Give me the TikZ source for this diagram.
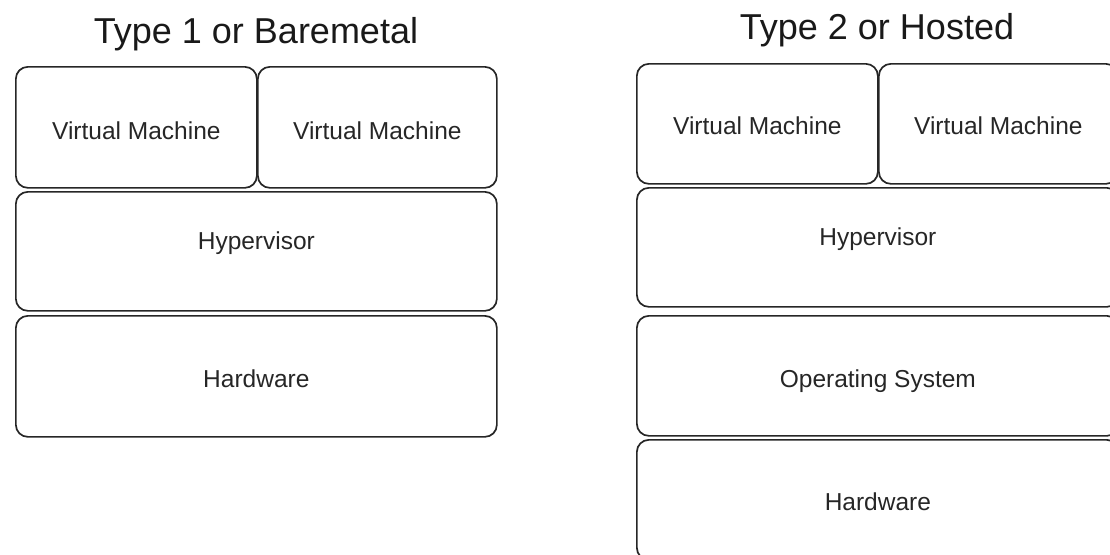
\documentclass[tikz,border=0pt]{standalone}
\usepackage{fontspec}
\setmainfont{Liberation Sans}
\begin{document}
\begin{tikzpicture}[x=1pt,y=-1pt,
  layer/.style={draw=black!85, line width=1.7pt, rounded corners=12pt,
    inner sep=0pt, anchor=north west},
  caption/.style={inner sep=0pt, text=black!85,
    font=\fontsize{24.5}{29}\selectfont},
  heading/.style={inner sep=0pt, text=black!90,
    font=\fontsize{36}{41}\selectfont}]
\useasboundingbox (0,0) rectangle (1110,554);
\clip (0,0) rectangle (1110,554);

% Type 1 stack
\node[heading] (t1) at (256,34) {Type 1 or Baremetal};
\node[layer, minimum width=241pt, minimum height=121pt] (vmA) at (15,66) {};
\node[layer, minimum width=239pt, minimum height=121pt] (vmB) at (257,66) {};
\node[layer, minimum width=481pt, minimum height=119pt] (hypA) at (15,191) {};
\node[layer, minimum width=481pt, minimum height=121pt] (hwA) at (15,315) {};
\node[caption] (vmAt) at ([yshift=-3pt]vmA.center) {Virtual Machine};
\node[caption] (vmBt) at ([yshift=-3pt]vmB.center) {Virtual Machine};
\node[caption] (hypAt) at ([yshift=8pt]hypA.center) {Hypervisor};
\node[caption] (hwAt) at ([yshift=-2pt]hwA.center) {Hardware};

% Type 2 stack
\node[heading] (t2) at (877,30) {Type 2 or Hosted};
\node[layer, minimum width=241pt, minimum height=120pt] (vmC) at (636,63) {};
\node[layer, minimum width=239pt, minimum height=120pt] (vmD) at (878,63) {};
\node[layer, minimum width=482pt, minimum height=119pt] (hypB) at (636,187) {};
\node[layer, minimum width=482pt, minimum height=120pt] (osB) at (636,315) {};
\node[layer, minimum width=482pt, minimum height=120pt] (hwB) at (636,439) {};
\node[caption] (vmCt) at ([yshift=-2pt]vmC.center) {Virtual Machine};
\node[caption] (vmDt) at ([yshift=-2pt]vmD.center) {Virtual Machine};
\node[caption] (hypBt) at ([yshift=8pt]hypB.center) {Hypervisor};
\node[caption] (osBt) at ([yshift=-5pt]osB.center) {Operating System};
\node[caption] (hwBt) at ([yshift=-2pt]hwB.center) {Hardware};
\end{tikzpicture}
\end{document}
